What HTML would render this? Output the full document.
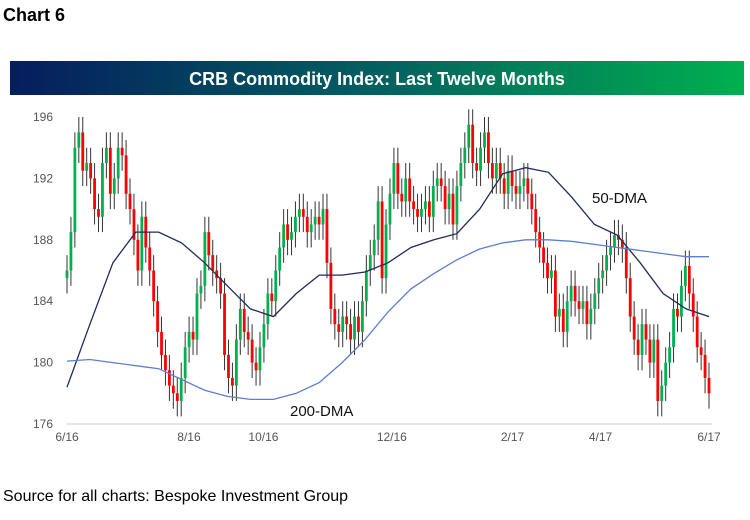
<!DOCTYPE html>
<html><head><meta charset="utf-8">
<style>
body{margin:0;background:#fff;width:750px;height:515px;overflow:hidden;font-family:"Liberation Sans",sans-serif;}
</style></head>
<body>
<svg id="chart" width="750" height="515" xmlns="http://www.w3.org/2000/svg">
<defs><linearGradient id="bg" x1="0" x2="1"><stop offset="0" stop-color="#061d5e"/><stop offset="0.5" stop-color="#026060"/><stop offset="1" stop-color="#00b04f"/></linearGradient></defs>
<text x="3" y="21" font-size="18" font-weight="bold" fill="#000" font-family="Liberation Sans, sans-serif">Chart 6</text>
<rect x="10" y="61" width="734" height="34" fill="url(#bg)"/>
<text x="377" y="85" text-anchor="middle" font-size="18" font-weight="bold" fill="#fff">CRB Commodity Index: Last Twelve Months</text>
<line x1="66" y1="424" x2="712" y2="424" stroke="#ccc" stroke-width="1"/>
<g id="yticks"></g><g id="xticks"></g><g id="candles"></g><g id="mas"></g>
<text x="592" y="203" font-size="15" fill="#111">50-DMA</text>
<text x="290" y="416" font-size="15" fill="#111">200-DMA</text>
<text x="3" y="501" font-size="16" fill="#000">Source for all charts: Bespoke Investment Group</text>
</svg>
<script>
const closes=[186,188.5,194,195,192.5,193,192,190,189.5,193,194,191,192,194,193.5,191,190,188,186,189.5,187.5,186,184,182,180.5,179.5,178.5,178,177.5,179,181,182,181.5,184.5,185,188.5,187,186,185.5,184.5,180.5,179,178.5,181.5,183.5,182,181.5,180,179.5,181,182.5,184.5,184,186,187.5,189,188,188.5,189.5,190,189.5,188.5,189,189.5,189,190,186.5,183.5,182.5,182,183,182.5,181.5,183,182,184,186,187,188,190.5,185.5,189,191,193,191,190.5,192,190.5,190,189.5,190,190.5,189.5,191.5,192,191.5,190,191,189,191.5,193,194,195.5,193,192.5,194,195,193,192,193,192,191,192.5,191.5,191,191.5,192,191,190,188.5,187.5,186.5,185.5,186,183,183.5,182,184,185,184,183.5,184,182.5,183.5,184.5,185.5,186,187,187.5,188.3,188,187.5,185.5,183,181.5,180.5,182.5,181.5,180,181.5,177.5,178.5,180,181,183.5,183,185,186.3,184.5,183,181,180.5,179,178];
const ma50=[178.4,182.5,186.5,188.5,188.5,187.8,186.5,185,183.5,183,184.5,185.7,185.7,185.9,186.5,187.5,188,188.4,190,192.3,192.7,192.4,190.8,189,188.3,186.5,184.5,183.5,183];
const ma200=[180.1,180.2,180,179.8,179.6,178.9,178.2,177.8,177.6,177.6,178,178.7,180,181.5,183.3,184.8,185.8,186.7,187.4,187.8,188,188,187.9,187.7,187.5,187.3,187.1,186.9,186.9];
const yTicks=[176,180,184,188,192,196];
const xLabels=["6/16","8/16","10/16","12/16","2/17","4/17","6/17"];
const xLabelFrac=[0,0.19,0.306,0.506,0.694,0.831,1];
const NS="http://www.w3.org/2000/svg";
const X0=67,X1=709,Y0=424,Y1=117;
function y(v){return Y0-(v-176)/(196-176)*(Y0-Y1);}
function xi(i,n){return X0+i*(X1-X0)/(n-1);}
function mk(t,a,p){const e=document.createElementNS(NS,t);for(const k in a)e.setAttribute(k,a[k]);p.appendChild(e);return e;}
const yt=document.getElementById('yticks');
yTicks.forEach(v=>{const t=mk('text',{x:53,y:y(v)+4,'text-anchor':'end','font-size':12,fill:'#555'},yt);


t.textContent=v;});
const xt=document.getElementById('xticks');
xLabels.forEach((l,i)=>{const t=mk('text',{x:X0+xLabelFrac[i]*(X1-X0),y:441,'text-anchor':'middle','font-size':12,fill:'#555'},xt);


t.textContent=l;});
const cg=document.getElementById('candles');
const n=closes.length;
closes.forEach((c,i)=>{const o=i?closes[i-1]:c-0.5;const x=xi(i,n);const up=c>=o;
const w=mk('line',{x1:x,x2:x,y1:y(Math.max(o,c)+1),y2:y(Math.min(o,c)-1),stroke:'#333','stroke-width':1},cg);


const top=y(Math.max(o,c)),bot=y(Math.min(o,c));
const r=mk('rect',{x:x-1.4,y:top,width:2.8,height:Math.max(1,bot-top),fill:up?'#00b04f':'#ff0000'},cg);

});
const mg=document.getElementById('mas');
function line(arr,color,name){const d=arr.map((v,i)=>(i?'L':'M')+xi(i,arr.length).toFixed(1)+' '+y(v).toFixed(1)).join(' ');
const p=mk('path',{d:d,fill:'none',stroke:color,'stroke-width':1.3},mg);

}
line(ma50,'#1f2a5a','ma50-line');
line(ma200,'#5b7fd0','ma200-line');
</script>
</body></html>
